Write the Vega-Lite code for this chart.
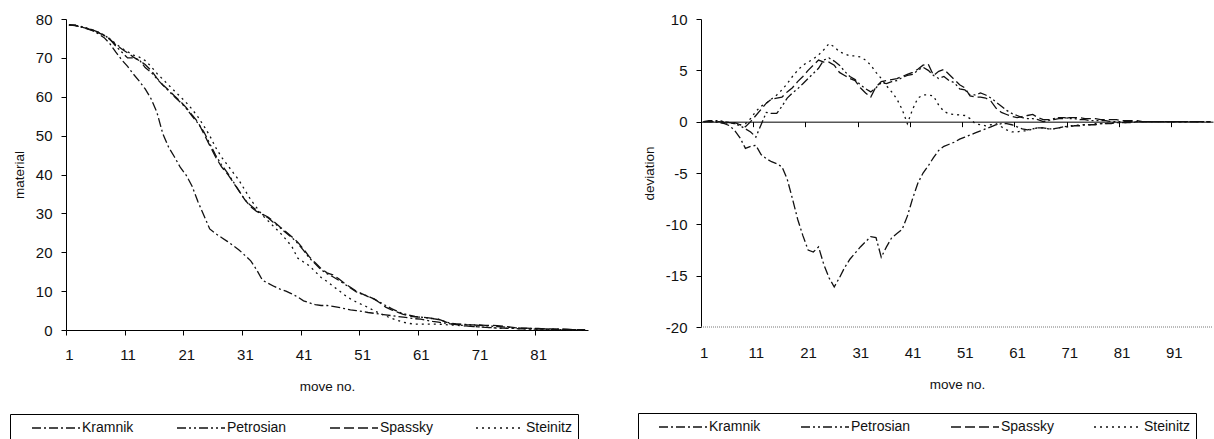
{
  "$schema": "https://vega.github.io/schema/vega-lite/v6.json",
  "padding": {"left": 9, "top": 12, "right": 0, "bottom": 0},
  "bounds": "flush",
  "spacing": 113,
  "config": {
    "font": "Liberation Sans",
    "view": {"stroke": null},
    "axis": {"labelFont": "Liberation Sans", "labelFontSize": 15, "labelColor": "#111", "titleFont": "Liberation Sans", "titleFontSize": 13.5, "titleFontWeight": "normal", "titleColor": "#111", "domainColor": "#000", "tickColor": "#000", "grid": false, "tickSize": 5, "labelPadding": 7, "domainWidth": 1, "tickWidth": 1},
    "legend": {"labelFont": "Liberation Sans", "labelFontSize": 14, "labelColor": "#111"}
  },
  "datasets": {
    "left": [
      {"m":1,"Kramnik":78.5,"Petrosian":78.5,"Spassky":78.5,"Steinitz":78.5},
      {"m":2,"Kramnik":78.4,"Petrosian":78.4,"Spassky":78.3,"Steinitz":78.4},
      {"m":3,"Kramnik":78.0,"Petrosian":78.1,"Spassky":78.0,"Steinitz":78.0},
      {"m":4,"Kramnik":77.5,"Petrosian":77.7,"Spassky":77.6,"Steinitz":77.6},
      {"m":5,"Kramnik":77.0,"Petrosian":77.2,"Spassky":77.1,"Steinitz":77.2},
      {"m":6,"Kramnik":76.2,"Petrosian":76.6,"Spassky":76.5,"Steinitz":76.6},
      {"m":7,"Kramnik":75.2,"Petrosian":75.9,"Spassky":75.8,"Steinitz":75.8},
      {"m":8,"Kramnik":73.6,"Petrosian":74.8,"Spassky":74.7,"Steinitz":74.9},
      {"m":9,"Kramnik":71.5,"Petrosian":73.0,"Spassky":73.4,"Steinitz":73.6},
      {"m":10,"Kramnik":69.5,"Petrosian":71.5,"Spassky":72.3,"Steinitz":72.5},
      {"m":11,"Kramnik":67.8,"Petrosian":70.0,"Spassky":71.3,"Steinitz":71.6},
      {"m":12,"Kramnik":65.8,"Petrosian":70.0,"Spassky":70.2,"Steinitz":70.7},
      {"m":13,"Kramnik":64.0,"Petrosian":69.5,"Spassky":69.3,"Steinitz":70.2},
      {"m":14,"Kramnik":62.0,"Petrosian":67.5,"Spassky":68.3,"Steinitz":69.3},
      {"m":15,"Kramnik":59.5,"Petrosian":66.3,"Spassky":66.8,"Steinitz":67.8},
      {"m":16,"Kramnik":56.0,"Petrosian":64.6,"Spassky":64.8,"Steinitz":66.0},
      {"m":17,"Kramnik":50.5,"Petrosian":63.0,"Spassky":63.1,"Steinitz":64.5},
      {"m":18,"Kramnik":47.0,"Petrosian":61.5,"Spassky":61.7,"Steinitz":63.0},
      {"m":19,"Kramnik":44.5,"Petrosian":60.0,"Spassky":60.2,"Steinitz":61.5},
      {"m":20,"Kramnik":41.8,"Petrosian":58.6,"Spassky":58.8,"Steinitz":60.0},
      {"m":21,"Kramnik":39.8,"Petrosian":57.0,"Spassky":57.2,"Steinitz":58.5},
      {"m":22,"Kramnik":37.0,"Petrosian":55.0,"Spassky":55.3,"Steinitz":56.8},
      {"m":23,"Kramnik":33.0,"Petrosian":53.2,"Spassky":53.5,"Steinitz":54.8},
      {"m":24,"Kramnik":29.5,"Petrosian":51.0,"Spassky":50.5,"Steinitz":52.5},
      {"m":25,"Kramnik":26.0,"Petrosian":48.0,"Spassky":47.5,"Steinitz":50.0},
      {"m":26,"Kramnik":24.8,"Petrosian":45.0,"Spassky":44.5,"Steinitz":47.0},
      {"m":27,"Kramnik":23.8,"Petrosian":42.5,"Spassky":42.0,"Steinitz":44.5},
      {"m":28,"Kramnik":22.8,"Petrosian":40.5,"Spassky":40.2,"Steinitz":42.5},
      {"m":29,"Kramnik":21.7,"Petrosian":38.2,"Spassky":38.0,"Steinitz":40.5},
      {"m":30,"Kramnik":20.6,"Petrosian":35.8,"Spassky":35.8,"Steinitz":38.5},
      {"m":31,"Kramnik":19.2,"Petrosian":33.5,"Spassky":33.5,"Steinitz":36.0},
      {"m":32,"Kramnik":17.8,"Petrosian":32.0,"Spassky":31.7,"Steinitz":33.5},
      {"m":33,"Kramnik":15.5,"Petrosian":30.8,"Spassky":30.5,"Steinitz":31.5},
      {"m":34,"Kramnik":12.8,"Petrosian":29.7,"Spassky":29.8,"Steinitz":29.5},
      {"m":35,"Kramnik":12.0,"Petrosian":28.8,"Spassky":29.0,"Steinitz":28.0},
      {"m":36,"Kramnik":11.2,"Petrosian":27.5,"Spassky":27.8,"Steinitz":26.5},
      {"m":37,"Kramnik":10.5,"Petrosian":26.3,"Spassky":26.5,"Steinitz":25.0},
      {"m":38,"Kramnik":10.0,"Petrosian":25.0,"Spassky":25.3,"Steinitz":23.3},
      {"m":39,"Kramnik":9.3,"Petrosian":23.8,"Spassky":24.0,"Steinitz":21.5},
      {"m":40,"Kramnik":8.5,"Petrosian":22.3,"Spassky":22.6,"Steinitz":18.5},
      {"m":41,"Kramnik":7.5,"Petrosian":20.5,"Spassky":20.8,"Steinitz":17.5},
      {"m":42,"Kramnik":7.0,"Petrosian":18.5,"Spassky":18.8,"Steinitz":16.5},
      {"m":43,"Kramnik":6.5,"Petrosian":17.0,"Spassky":17.3,"Steinitz":15.0},
      {"m":44,"Kramnik":6.3,"Petrosian":15.5,"Spassky":15.8,"Steinitz":13.5},
      {"m":45,"Kramnik":6.3,"Petrosian":14.5,"Spassky":14.7,"Steinitz":12.5},
      {"m":46,"Kramnik":6.1,"Petrosian":13.7,"Spassky":14.2,"Steinitz":11.3},
      {"m":47,"Kramnik":5.8,"Petrosian":12.8,"Spassky":13.2,"Steinitz":10.2},
      {"m":48,"Kramnik":5.5,"Petrosian":11.8,"Spassky":12.0,"Steinitz":9.0},
      {"m":49,"Kramnik":5.2,"Petrosian":10.8,"Spassky":11.0,"Steinitz":8.0},
      {"m":50,"Kramnik":5.0,"Petrosian":9.8,"Spassky":10.0,"Steinitz":7.2},
      {"m":51,"Kramnik":4.8,"Petrosian":9.2,"Spassky":9.3,"Steinitz":6.5},
      {"m":52,"Kramnik":4.5,"Petrosian":8.7,"Spassky":8.6,"Steinitz":5.8},
      {"m":53,"Kramnik":4.3,"Petrosian":8.0,"Spassky":8.0,"Steinitz":5.0},
      {"m":54,"Kramnik":4.1,"Petrosian":7.2,"Spassky":7.0,"Steinitz":4.3},
      {"m":55,"Kramnik":3.9,"Petrosian":6.3,"Spassky":5.9,"Steinitz":3.6},
      {"m":56,"Kramnik":3.7,"Petrosian":5.5,"Spassky":5.2,"Steinitz":3.0},
      {"m":57,"Kramnik":3.5,"Petrosian":4.8,"Spassky":4.6,"Steinitz":2.5},
      {"m":58,"Kramnik":3.3,"Petrosian":4.2,"Spassky":4.0,"Steinitz":2.0},
      {"m":59,"Kramnik":3.1,"Petrosian":3.8,"Spassky":3.6,"Steinitz":1.7},
      {"m":60,"Kramnik":2.9,"Petrosian":3.5,"Spassky":3.4,"Steinitz":1.5},
      {"m":61,"Kramnik":2.8,"Petrosian":3.3,"Spassky":3.3,"Steinitz":1.5},
      {"m":62,"Kramnik":2.5,"Petrosian":3.1,"Spassky":3.2,"Steinitz":1.5},
      {"m":63,"Kramnik":2.2,"Petrosian":2.9,"Spassky":3.0,"Steinitz":1.5},
      {"m":64,"Kramnik":2.0,"Petrosian":2.7,"Spassky":2.8,"Steinitz":1.5},
      {"m":65,"Kramnik":1.8,"Petrosian":2.2,"Spassky":2.2,"Steinitz":1.4},
      {"m":66,"Kramnik":1.6,"Petrosian":1.8,"Spassky":1.6,"Steinitz":1.3},
      {"m":67,"Kramnik":1.4,"Petrosian":1.6,"Spassky":1.5,"Steinitz":1.2},
      {"m":68,"Kramnik":1.2,"Petrosian":1.5,"Spassky":1.4,"Steinitz":1.1},
      {"m":69,"Kramnik":1.0,"Petrosian":1.4,"Spassky":1.3,"Steinitz":1.0},
      {"m":70,"Kramnik":0.9,"Petrosian":1.3,"Spassky":1.3,"Steinitz":0.9},
      {"m":71,"Kramnik":0.8,"Petrosian":1.2,"Spassky":1.3,"Steinitz":0.8},
      {"m":72,"Kramnik":0.7,"Petrosian":1.1,"Spassky":1.2,"Steinitz":0.7},
      {"m":73,"Kramnik":0.6,"Petrosian":1.0,"Spassky":1.2,"Steinitz":0.6},
      {"m":74,"Kramnik":0.5,"Petrosian":0.9,"Spassky":1.1,"Steinitz":0.5},
      {"m":75,"Kramnik":0.5,"Petrosian":0.8,"Spassky":1.0,"Steinitz":0.5},
      {"m":76,"Kramnik":0.4,"Petrosian":0.7,"Spassky":0.8,"Steinitz":0.4},
      {"m":77,"Kramnik":0.4,"Petrosian":0.6,"Spassky":0.6,"Steinitz":0.4},
      {"m":78,"Kramnik":0.3,"Petrosian":0.5,"Spassky":0.5,"Steinitz":0.3},
      {"m":79,"Kramnik":0.3,"Petrosian":0.4,"Spassky":0.5,"Steinitz":0.3},
      {"m":80,"Kramnik":0.2,"Petrosian":0.4,"Spassky":0.4,"Steinitz":0.2},
      {"m":81,"Kramnik":0.2,"Petrosian":0.3,"Spassky":0.4,"Steinitz":0.2},
      {"m":82,"Kramnik":0.2,"Petrosian":0.3,"Spassky":0.3,"Steinitz":0.2},
      {"m":83,"Kramnik":0.1,"Petrosian":0.2,"Spassky":0.3,"Steinitz":0.1},
      {"m":84,"Kramnik":0.1,"Petrosian":0.2,"Spassky":0.3,"Steinitz":0.1},
      {"m":85,"Kramnik":0.1,"Petrosian":0.2,"Spassky":0.2,"Steinitz":0.1},
      {"m":86,"Kramnik":0.1,"Petrosian":0.1,"Spassky":0.2,"Steinitz":0.1},
      {"m":87,"Kramnik":0.1,"Petrosian":0.1,"Spassky":0.1,"Steinitz":0.0},
      {"m":88,"Kramnik":0.0,"Petrosian":0.1,"Spassky":0.1,"Steinitz":0.0},
      {"m":89,"Kramnik":0.0,"Petrosian":0.1,"Spassky":0.1,"Steinitz":0.0}
    ],
    "right": [
      {"m":1,"Kramnik":0,"Petrosian":0,"Spassky":0,"Steinitz":0},
      {"m":2,"Kramnik":0,"Petrosian":0.1,"Spassky":0,"Steinitz":0},
      {"m":3,"Kramnik":0,"Petrosian":0.1,"Spassky":0,"Steinitz":0},
      {"m":4,"Kramnik":-0.1,"Petrosian":0.1,"Spassky":0,"Steinitz":0},
      {"m":5,"Kramnik":-0.2,"Petrosian":0,"Spassky":-0.1,"Steinitz":0},
      {"m":6,"Kramnik":-0.4,"Petrosian":-0.1,"Spassky":-0.2,"Steinitz":-0.1},
      {"m":7,"Kramnik":-0.9,"Petrosian":-0.2,"Spassky":-0.1,"Steinitz":-0.2},
      {"m":8,"Kramnik":-1.6,"Petrosian":-0.4,"Spassky":-0.3,"Steinitz":-0.3},
      {"m":9,"Kramnik":-2.6,"Petrosian":-0.7,"Spassky":-0.5,"Steinitz":-0.2},
      {"m":10,"Kramnik":-2.4,"Petrosian":-1.0,"Spassky":0,"Steinitz":0.3},
      {"m":11,"Kramnik":-2.3,"Petrosian":-1.5,"Spassky":0.6,"Steinitz":1.0},
      {"m":12,"Kramnik":-3.2,"Petrosian":-0.3,"Spassky":1.2,"Steinitz":1.5},
      {"m":13,"Kramnik":-3.6,"Petrosian":0.9,"Spassky":1.8,"Steinitz":1.8},
      {"m":14,"Kramnik":-3.9,"Petrosian":0.8,"Spassky":2.2,"Steinitz":2.2},
      {"m":15,"Kramnik":-4.1,"Petrosian":0.8,"Spassky":2.3,"Steinitz":2.6},
      {"m":16,"Kramnik":-4.4,"Petrosian":1.5,"Spassky":2.4,"Steinitz":3.1},
      {"m":17,"Kramnik":-5.6,"Petrosian":2.3,"Spassky":2.9,"Steinitz":3.7},
      {"m":18,"Kramnik":-7.5,"Petrosian":2.8,"Spassky":3.3,"Steinitz":4.4},
      {"m":19,"Kramnik":-9.5,"Petrosian":3.2,"Spassky":3.9,"Steinitz":5.0},
      {"m":20,"Kramnik":-11.1,"Petrosian":3.7,"Spassky":4.4,"Steinitz":5.5},
      {"m":21,"Kramnik":-12.5,"Petrosian":4.2,"Spassky":5.0,"Steinitz":5.8},
      {"m":22,"Kramnik":-12.7,"Petrosian":4.7,"Spassky":5.5,"Steinitz":6.1},
      {"m":23,"Kramnik":-12.2,"Petrosian":5.2,"Spassky":6.0,"Steinitz":6.5},
      {"m":24,"Kramnik":-13.9,"Petrosian":6.0,"Spassky":5.8,"Steinitz":7.0},
      {"m":25,"Kramnik":-15.2,"Petrosian":6.2,"Spassky":5.8,"Steinitz":7.6},
      {"m":26,"Kramnik":-16.1,"Petrosian":5.9,"Spassky":5.5,"Steinitz":7.3},
      {"m":27,"Kramnik":-15.2,"Petrosian":5.5,"Spassky":4.8,"Steinitz":6.8},
      {"m":28,"Kramnik":-14.2,"Petrosian":4.9,"Spassky":4.5,"Steinitz":6.6},
      {"m":29,"Kramnik":-13.4,"Petrosian":4.4,"Spassky":4.2,"Steinitz":6.4},
      {"m":30,"Kramnik":-12.8,"Petrosian":4.1,"Spassky":4.0,"Steinitz":6.4},
      {"m":31,"Kramnik":-12.2,"Petrosian":3.6,"Spassky":3.3,"Steinitz":6.3},
      {"m":32,"Kramnik":-11.7,"Petrosian":3.2,"Spassky":2.8,"Steinitz":6.0},
      {"m":33,"Kramnik":-11.2,"Petrosian":2.9,"Spassky":2.4,"Steinitz":5.5},
      {"m":34,"Kramnik":-11.3,"Petrosian":3.3,"Spassky":3.4,"Steinitz":4.8},
      {"m":35,"Kramnik":-13.2,"Petrosian":3.8,"Spassky":3.9,"Steinitz":4.2},
      {"m":36,"Kramnik":-12.2,"Petrosian":3.7,"Spassky":4.0,"Steinitz":3.5},
      {"m":37,"Kramnik":-11.3,"Petrosian":3.9,"Spassky":4.1,"Steinitz":2.9},
      {"m":38,"Kramnik":-10.9,"Petrosian":4.0,"Spassky":4.2,"Steinitz":2.2},
      {"m":39,"Kramnik":-10.5,"Petrosian":4.3,"Spassky":4.4,"Steinitz":1.2},
      {"m":40,"Kramnik":-9.2,"Petrosian":4.5,"Spassky":4.6,"Steinitz":-0.2},
      {"m":41,"Kramnik":-7.5,"Petrosian":4.6,"Spassky":4.8,"Steinitz":1.2},
      {"m":42,"Kramnik":-6.0,"Petrosian":5.0,"Spassky":5.1,"Steinitz":2.3},
      {"m":43,"Kramnik":-5.0,"Petrosian":5.3,"Spassky":5.5,"Steinitz":2.6},
      {"m":44,"Kramnik":-4.3,"Petrosian":5.0,"Spassky":5.6,"Steinitz":2.6},
      {"m":45,"Kramnik":-3.5,"Petrosian":4.5,"Spassky":4.5,"Steinitz":2.5},
      {"m":46,"Kramnik":-2.8,"Petrosian":4.2,"Spassky":4.9,"Steinitz":1.6},
      {"m":47,"Kramnik":-2.4,"Petrosian":4.4,"Spassky":5.1,"Steinitz":1.0},
      {"m":48,"Kramnik":-2.2,"Petrosian":4.0,"Spassky":4.6,"Steinitz":0.75},
      {"m":49,"Kramnik":-2.0,"Petrosian":3.8,"Spassky":4.1,"Steinitz":0.7},
      {"m":50,"Kramnik":-1.7,"Petrosian":3.2,"Spassky":3.6,"Steinitz":0.65},
      {"m":51,"Kramnik":-1.5,"Petrosian":3.1,"Spassky":3.3,"Steinitz":0.6},
      {"m":52,"Kramnik":-1.3,"Petrosian":2.6,"Spassky":2.5,"Steinitz":0.3},
      {"m":53,"Kramnik":-1.1,"Petrosian":2.6,"Spassky":2.4,"Steinitz":-0.2},
      {"m":54,"Kramnik":-0.9,"Petrosian":2.8,"Spassky":2.4,"Steinitz":-0.3},
      {"m":55,"Kramnik":-0.7,"Petrosian":2.6,"Spassky":2.3,"Steinitz":-0.4},
      {"m":56,"Kramnik":-0.5,"Petrosian":2.3,"Spassky":2.0,"Steinitz":-0.3},
      {"m":57,"Kramnik":-0.3,"Petrosian":1.9,"Spassky":1.3,"Steinitz":-0.2},
      {"m":58,"Kramnik":-0.2,"Petrosian":1.5,"Spassky":0.9,"Steinitz":-0.5},
      {"m":59,"Kramnik":-0.2,"Petrosian":1.1,"Spassky":0.7,"Steinitz":-0.8},
      {"m":60,"Kramnik":-0.3,"Petrosian":0.8,"Spassky":0.5,"Steinitz":-1.0},
      {"m":61,"Kramnik":-0.5,"Petrosian":0.6,"Spassky":0.4,"Steinitz":-1.0},
      {"m":62,"Kramnik":-0.7,"Petrosian":0.4,"Spassky":0.5,"Steinitz":-0.9},
      {"m":63,"Kramnik":-0.8,"Petrosian":0.3,"Spassky":0.6,"Steinitz":-0.9},
      {"m":64,"Kramnik":-0.7,"Petrosian":0.3,"Spassky":0.7,"Steinitz":-0.7},
      {"m":65,"Kramnik":-0.6,"Petrosian":0.2,"Spassky":0.4,"Steinitz":-0.6},
      {"m":66,"Kramnik":-0.6,"Petrosian":0.0,"Spassky":0.2,"Steinitz":-0.6},
      {"m":67,"Kramnik":-0.7,"Petrosian":0.1,"Spassky":0.2,"Steinitz":-0.7},
      {"m":68,"Kramnik":-0.7,"Petrosian":0.3,"Spassky":0.2,"Steinitz":-0.7},
      {"m":69,"Kramnik":-0.6,"Petrosian":0.4,"Spassky":0.3,"Steinitz":-0.6},
      {"m":70,"Kramnik":-0.5,"Petrosian":0.4,"Spassky":0.3,"Steinitz":-0.5},
      {"m":71,"Kramnik":-0.5,"Petrosian":0.3,"Spassky":0.4,"Steinitz":-0.4},
      {"m":72,"Kramnik":-0.4,"Petrosian":0.3,"Spassky":0.4,"Steinitz":-0.4},
      {"m":73,"Kramnik":-0.4,"Petrosian":0.2,"Spassky":0.4,"Steinitz":-0.3},
      {"m":74,"Kramnik":-0.3,"Petrosian":0.2,"Spassky":0.3,"Steinitz":-0.3},
      {"m":75,"Kramnik":-0.3,"Petrosian":0.1,"Spassky":0.3,"Steinitz":-0.3},
      {"m":76,"Kramnik":-0.3,"Petrosian":0.1,"Spassky":0.3,"Steinitz":-0.2},
      {"m":77,"Kramnik":-0.2,"Petrosian":0.1,"Spassky":0.2,"Steinitz":-0.2},
      {"m":78,"Kramnik":-0.2,"Petrosian":0.1,"Spassky":0.2,"Steinitz":-0.2},
      {"m":79,"Kramnik":-0.2,"Petrosian":0,"Spassky":0.2,"Steinitz":-0.1},
      {"m":80,"Kramnik":-0.1,"Petrosian":0,"Spassky":0.2,"Steinitz":-0.1},
      {"m":81,"Kramnik":-0.1,"Petrosian":0,"Spassky":0.1,"Steinitz":-0.1},
      {"m":82,"Kramnik":-0.1,"Petrosian":0,"Spassky":0.1,"Steinitz":-0.1},
      {"m":83,"Kramnik":-0.1,"Petrosian":0,"Spassky":0.1,"Steinitz":0},
      {"m":84,"Kramnik":0,"Petrosian":0,"Spassky":0.1,"Steinitz":0},
      {"m":85,"Kramnik":0,"Petrosian":0,"Spassky":0,"Steinitz":0},
      {"m":86,"Kramnik":0,"Petrosian":0,"Spassky":0,"Steinitz":0},
      {"m":87,"Kramnik":0,"Petrosian":0,"Spassky":0,"Steinitz":0},
      {"m":88,"Kramnik":0,"Petrosian":0,"Spassky":0,"Steinitz":0},
      {"m":89,"Kramnik":0,"Petrosian":0,"Spassky":0,"Steinitz":0},
      {"m":90,"Kramnik":0,"Petrosian":0,"Spassky":0,"Steinitz":0},
      {"m":91,"Kramnik":0,"Petrosian":0,"Spassky":0,"Steinitz":0},
      {"m":92,"Kramnik":0,"Petrosian":0,"Spassky":0,"Steinitz":0},
      {"m":93,"Kramnik":0,"Petrosian":0,"Spassky":0,"Steinitz":0},
      {"m":94,"Kramnik":0,"Petrosian":0,"Spassky":0,"Steinitz":0},
      {"m":95,"Kramnik":0,"Petrosian":0,"Spassky":0,"Steinitz":0},
      {"m":96,"Kramnik":0,"Petrosian":0,"Spassky":0,"Steinitz":0},
      {"m":97,"Kramnik":0,"Petrosian":0,"Spassky":0,"Steinitz":0},
      {"m":98,"Kramnik":0,"Petrosian":0,"Spassky":0,"Steinitz":0}
    ]
  },
  "hconcat": [
    {
      "width": 522,
      "height": 311,
      "data": {"name": "left"},
      "transform": [{"fold": ["Kramnik", "Petrosian", "Spassky", "Steinitz"], "as": ["player", "value"]}],
      "mark": {"type": "line", "color": "#111", "strokeWidth": 1.3},
      "encoding": {
        "x": {"field": "m", "type": "quantitative",
          "scale": {"domain": [0.5, 89.5], "nice": false, "zero": false},
          "axis": {"values": [1, 11, 21, 31, 41, 51, 61, 71, 81], "tickOffset": -2.935, "labelOffset": 2.935, "labelPadding": 12, "title": "move no.", "titlePadding": 17}},
        "y": {"field": "value", "type": "quantitative",
          "scale": {"domain": [0, 80], "nice": false},
          "axis": {"values": [0, 10, 20, 30, 40, 50, 60, 70, 80], "title": "material", "labelPadding": 9, "titlePadding": 9}},
        "strokeDash": {"field": "player", "type": "nominal",
          "scale": {"domain": ["Kramnik", "Petrosian", "Spassky", "Steinitz"], "range": [[9, 3, 2, 3], [9, 3, 2, 3, 2, 3], [10, 4], [2, 4]]},
          "legend": {"orient": "none", "legendX": -56, "legendY": 395, "direction": "horizontal", "columns": 4, "title": null, "strokeColor": "#000", "padding": 6, "symbolType": "stroke", "symbolSize": 2304, "symbolStrokeWidth": 1.3, "symbolStrokeColor": "#111", "clipHeight": 16, "symbolOffset": 15, "labelOffset": 1, "columnPadding": 27}}
      }
    },
    {
      "width": 512,
      "height": 308,
      "layer": [
        {
          "data": {"name": "right"},
          "transform": [{"fold": ["Kramnik", "Petrosian", "Spassky", "Steinitz"], "as": ["player", "value"]}],
          "mark": {"type": "line", "color": "#111", "strokeWidth": 1.3},
          "encoding": {
            "x": {"field": "m", "type": "quantitative",
              "scale": {"domain": [0.5, 98.5], "nice": false, "zero": false},
              "axis": {"orient": "bottom", "values": [1, 11, 21, 31, 41, 51, 61, 71, 81, 91], "tickOffset": -2.611, "labels": false, "title": null, "offset": -205.33}},
            "y": {"field": "value", "type": "quantitative",
              "scale": {"domain": [-20, 10], "nice": false, "zero": false},
              "axis": {"values": [-20, -15, -10, -5, 0, 5, 10], "labelExpr": "datum.value < 0 ? '-' + abs(datum.value) : '' + datum.value", "title": "deviation", "labelPadding": 9, "titlePadding": 9}},
            "strokeDash": {"field": "player", "type": "nominal",
              "scale": {"domain": ["Kramnik", "Petrosian", "Spassky", "Steinitz"], "range": [[9, 3, 2, 3], [9, 3, 2, 3, 2, 3], [10, 4], [2, 4]]},
              "legend": {"orient": "none", "legendX": -63, "legendY": 394, "direction": "horizontal", "columns": 4, "title": null, "strokeColor": "#000", "padding": 6, "symbolType": "stroke", "symbolSize": 2304, "symbolStrokeWidth": 1.3, "symbolStrokeColor": "#111", "clipHeight": 16, "symbolOffset": 14, "labelOffset": 1, "columnPadding": 25}}
          }
        },
        {
          "data": {"values": [{}]},
          "mark": {"type": "rule", "color": "#777", "strokeDash": [1, 1], "strokeWidth": 1},
          "encoding": {
            "x": {"datum": 0.5, "type": "quantitative",
              "axis": {"orient": "bottom", "values": [1, 11, 21, 31, 41, 51, 61, 71, 81, 91], "domain": false, "ticks": false, "labelPadding": 18, "title": "move no.", "titlePadding": 17}},
            "x2": {"datum": 98.5},
            "y": {"datum": -20, "type": "quantitative",
              "axis": {"values": [-20, -15, -10, -5, 0, 5, 10], "labelExpr": "datum.value < 0 ? '-' + abs(datum.value) : '' + datum.value", "title": "deviation", "labelPadding": 9, "titlePadding": 9}}
          }
        }
      ],
      "resolve": {"axis": {"x": "independent"}}
    }
  ],
  "resolve": {"scale": {"strokeDash": "independent", "x": "independent", "y": "independent"}, "legend": {"strokeDash": "independent"}}
}
